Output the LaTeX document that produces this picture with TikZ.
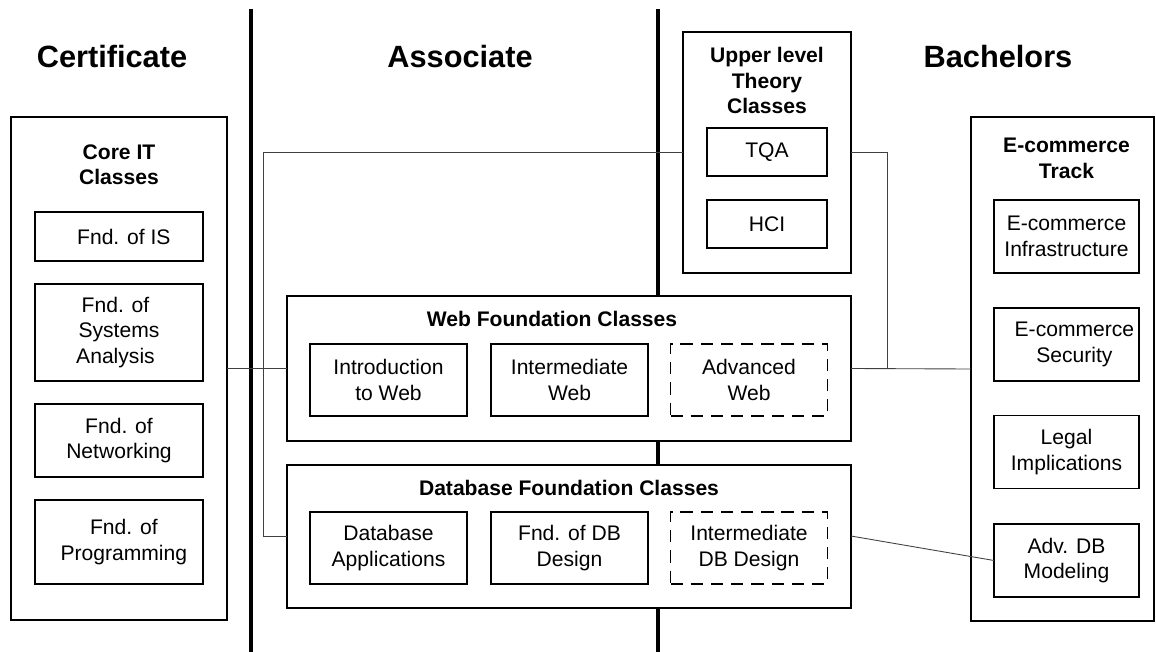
\documentclass[tikz,border=0pt]{standalone}
\usepackage{fontspec}
\setmainfont{Liberation Sans}

\begin{document}
\begin{tikzpicture}[
    x=0.02cm, y=-0.02cm,
    every node/.style={font=\fontsize{12}{14.5}\selectfont, align=center, inner sep=0pt, outer sep=0pt},
    heading/.style={font=\fontsize{17.5}{21}\selectfont\bfseries},
    title/.style={font=\fontsize{12}{14.5}\selectfont\bfseries},
    group/.style={draw, line width=0.9pt, fill=white},
    course/.style={draw, line width=0.9pt, fill=white},
    planned/.style={dash pattern=on 7pt off 4.5pt},
    coreclass/.style={course, minimum width=3.36cm},
    webclass/.style={course, minimum width=3.14cm, minimum height=1.44cm},
    theory/.style={course, minimum width=2.4cm, minimum height=0.96cm},
    track/.style={course, minimum width=2.9cm, minimum height=1.46cm},
    link/.style={line width=0.5pt, black!75},
    divider/.style={line width=2.3pt},
    ]
    \useasboundingbox (0,0) rectangle (1156,652);

    % degree dividers
    \draw[divider] (251,9) -- (251,652);
    \draw[divider] (658,9) -- (658,652);

    \node[heading] (cert) at (112,57) {Certificate};
    \node[heading] (assoc) at (460,57) {Associate};
    \node[heading] (bach) at (998,57) {Bachelors};

    % Core IT
    \node[group, minimum width=4.32cm, minimum height=10.06cm] (core) at (119,368.5) {};
    \node[title] (coretitle) at (119,164.5) {Core IT\\Classes};
    \node[coreclass, minimum height=0.98cm] (fis) at (119,236.5) {\hspace*{5.5pt}Fnd. of IS};
    \node[coreclass, minimum height=1.94cm] (fsa) at (119,332.5) {Fnd. of\hspace*{4pt}\\Systems\hspace*{4pt}\\Analysis\hspace*{4pt}};
    \node[coreclass, minimum height=1.46cm] (fnet) at (119,440.5) {Fnd. of\\Networking};
    \node[coreclass, minimum height=1.68cm] (fprog) at (119,542) {\hspace*{5.5pt}Fnd. of\\\hspace*{5.5pt}Programming};

    % Upper level
    \node[group, minimum width=3.36cm, minimum height=4.82cm] (upper) at (767,152.5) {};
    \node[title] (uppertitle) at (767,80.5) {Upper level\\Theory\\Classes};
    \node[theory] (tqa) at (767,152) {TQA};
    \node[theory] (hci) at (767,224) {HCI};

    % Web
    \node[group, minimum width=11.28cm, minimum height=2.9cm] (web) at (569,368.5) {};
    \node[title] (webtitle) at (552,319) {Web Foundation Classes};
    \node[webclass] (intro) at (388.5,380) {Introduction\\to Web};
    \node[webclass] (interweb) at (569.5,380) {Intermediate\\Web};
    \node[webclass, planned] (advweb) at (749,380) {Advanced\\Web};

    % Database
    \node[group, minimum width=11.28cm, minimum height=2.86cm] (db) at (569,536.5) {};
    \node[title] (dbtitle) at (569,488) {Database Foundation Classes};
    \node[webclass] (dbapp) at (388.5,548) {Database\\Applications};
    \node[webclass] (dbdes) at (569.5,548) {Fnd. of DB\\Design};
    \node[webclass, planned] (dbint) at (749,548) {Intermediate\\DB Design};

    % E-commerce
    \node[group, minimum width=3.66cm, minimum height=10.08cm] (ecom) at (1062.5,369) {};
    \node[title] (ecomtitle) at (1066.5,158.5) {E-commerce\\Track};
    \node[track] (einf) at (1066.5,236.5) {E-commerce\\Infrastructure};
    \node[track] (esec) at (1066.5,344.5) {\hspace*{9pt}E-commerce\\\hspace*{9pt}Security};
    \node[track] (legal) at (1066.5,452) {Legal\\Implications};
    \node[track] (advdb) at (1066.5,560.5) {Adv. DB\\Modeling};

    % connectors
    \coordinate (lbend) at (263,536);
    \coordinate (rjoin) at (887,368.5);
    \draw[link] (core.east) -- (web.west);
    \draw[link] (web.east) -- (ecom.west);
    \draw[link] (upper.east |- tqa) -| (rjoin);
    \draw[link] (upper.west |- tqa) -| (lbend) -- (lbend -| db.west);
    \draw[link] (db.east |- lbend) -- (advdb.west);
\end{tikzpicture}
\end{document}
